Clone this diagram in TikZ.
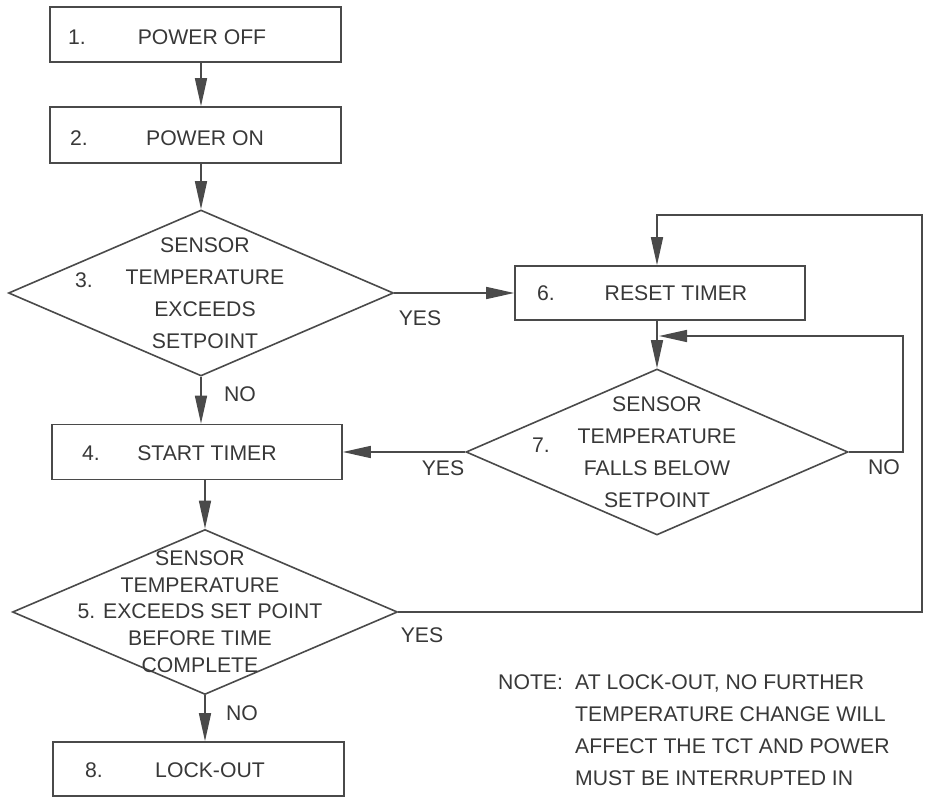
\documentclass[tikz,border=0pt]{standalone}
\usepackage{fontspec}
\setmainfont{Liberation Sans}
\usetikzlibrary{arrows.meta,shapes.geometric}
\definecolor{ink}{HTML}{4A4A4A}
\definecolor{txt}{HTML}{383838}
\begin{document}
\begin{tikzpicture}[x=1pt,y=-1pt,
  lbl/.style={text=txt, inner sep=0pt, font=\fontsize{21.2}{32}\selectfont},
  box/.style={draw=ink, line width=1.6pt, rectangle, inner sep=0pt},
  dec/.style={draw=ink, line width=1.6pt, diamond, inner sep=0pt},
  arr/.style={draw=ink, line width=1.6pt, -{Triangle[length=28pt,width=12pt]}},
  lin/.style={draw=ink, line width=1.6pt}
]
\useasboundingbox (0,0) rectangle (927,797);

% boxes
\node[box, minimum width=291pt, minimum height=55pt] (b1) at (195.5,34.5) {};
\node[box, minimum width=291pt, minimum height=56pt] (b2) at (195.5,135) {};
\node[box, minimum width=290pt, minimum height=55pt] (b4) at (197,452) {};
\node[box, minimum width=290pt, minimum height=54pt] (b6) at (660,293) {};
\node[box, minimum width=291pt, minimum height=54pt] (b8) at (198.5,769) {};

% diamonds
\node[dec, minimum width=385pt, minimum height=166pt] (d3) at (201,293) {};
\node[dec, minimum width=382pt, minimum height=166pt] (d7) at (657,452) {};
\node[dec, minimum width=385pt, minimum height=165pt] (d5) at (205,612) {};

% box texts
\node[lbl, anchor=west] (n1) at (68,37) {1.};
\node[lbl] (t1) at (202,37) {POWER OFF};
\node[lbl, anchor=west] (n2) at (70,138) {2.};
\node[lbl] (t2) at (205,138) {POWER ON};
\node[lbl, anchor=west] (n4) at (82,453) {4.};
\node[lbl] (t4) at (207,453) {START TIMER};
\node[lbl, anchor=west] (n6) at (537,293) {6.};
\node[lbl] (t6) at (676,293) {RESET TIMER};
\node[lbl, anchor=west] (n8) at (85,770) {8.};
\node[lbl] (t8) at (210,770) {LOCK-OUT};

% diamond texts
\node[lbl, align=center] (t3) at (205,293.5) {SENSOR\\TEMPERATURE\\EXCEEDS\\SETPOINT};
\node[lbl, anchor=west] (n3) at (75,280) {3.};
\node[lbl, align=center] (t7) at (657,452.5) {SENSOR\\TEMPERATURE\\FALLS BELOW\\SETPOINT};
\node[lbl, anchor=west] (n7) at (532,445) {7.};
\node[lbl, align=center, font=\fontsize{21.2}{26.75}\selectfont] (t5) at (200,611.5)
  {SENSOR\\TEMPERATURE\\5. EXCEEDS SET POINT\\BEFORE TIME\\COMPLETE};

% yes / no labels
\node[lbl] (no3) at (240,394) {NO};
\node[lbl] (yes3) at (420,318) {YES};
\node[lbl] (yes7) at (443,468) {YES};
\node[lbl] (no7) at (884,467) {NO};
\node[lbl] (yes5) at (422,635) {YES};
\node[lbl] (no5) at (242,713) {NO};

% note
\node[lbl, anchor=base west] (note) at (498,689.5) {NOTE:};
\node[lbl, anchor=north west, align=left] (notetxt) at (575,674.5)
  {AT LOCK-OUT, NO FURTHER\\TEMPERATURE CHANGE WILL\\AFFECT THE TCT AND POWER\\MUST BE INTERRUPTED IN};

% connectors
\coordinate (nr) at (903,336);
\coordinate (ntip) at (659,336);
\coordinate (rr) at (922,215);

\draw[arr] (b1.south -| d3.north) -- (b2.north -| d3.north);
\draw[arr] (b2.south -| d3.north) -- (d3.north);
\draw[arr] (d3.south) -- (b4.north -| d3.south);
\draw[arr] (d3.east) -- (b6.west);
\draw[arr] (b6.south -| d7.north) -- (d7.north);
\draw[arr] (d7.west) -- (b4.east);
\draw[arr] (d7.east) -| (nr) -- (ntip);
\draw[arr] (b4.south -| d5.north) -- (d5.north);
\draw[arr] (d5.south) -- (b8.north -| d5.south);
\draw[arr] (d5.east) -| (rr) -| (b6.north -| d7.north);
\end{tikzpicture}
\end{document}
